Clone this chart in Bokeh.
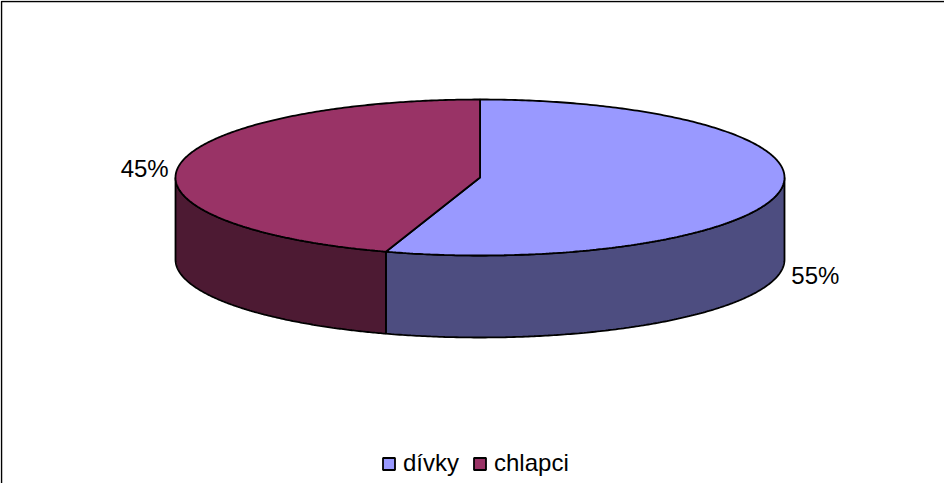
import numpy as np
from bokeh.plotting import figure
from bokeh.models import Range1d, Legend, LegendItem
from bokeh.embed import file_html
from bokeh.resources import INLINE
from bokeh.core.properties import value

# ---- data ----
categories = ["dívky", "chlapci"]
shares = [55, 45]
pct_labels = ["55%", "45%"]
top_colors = ["#9999FF", "#993366"]
side_colors = ["#4D4D80", "#4D1A33"]

# ---- layout / style ----
W, H = 944, 483
FONT = "Liberation Sans"
cx, cy = 479.5, 306.0      # centre of the top ellipse (data units = px)
rx, ry, depth = 304.5, 78.0, 82.0

p = figure(width=W, height=H, x_range=Range1d(0, W), y_range=Range1d(0, H),
           output_backend="svg", toolbar_location=None, min_border=0)
p.axis.visible = False
p.grid.visible = False
p.outline_line_color = None
p.background_fill_color = "white"
p.border_fill_color = "white"


def ell(theta_deg, drop=0.0):
    t = np.radians(theta_deg)
    return cx + rx * np.sin(t), cy + ry * np.cos(t) - drop


total = float(sum(shares))
starts, ends = [], []
acc = 0.0
for s in shares:
    starts.append(acc / total * 360.0)
    acc += s
    ends.append(acc / total * 360.0)

# side walls (visible front half: 90..270 degrees clockwise from top)
for a, b, col in zip(starts, ends, side_colors):
    lo, hi = max(a, 90.0), min(b, 270.0)
    if hi <= lo:
        continue
    th = np.linspace(lo, hi, 200)
    xt, yt = ell(th)
    xb, yb = ell(th[::-1], depth)
    xs = list(xt) + list(xb)
    ys = list(yt) + list(yb)
    p.patch(xs, ys, fill_color=col, line_color="black", line_width=1.8)

# top wedges
tops = []
for a, b, col in zip(starts, ends, top_colors):
    th = np.linspace(a, b, 300)
    xt, yt = ell(th)
    xs = [cx] + list(xt)
    ys = [cy] + list(yt)
    r = p.patch(xs, ys, fill_color=col, line_color="black", line_width=1.8)
    tops.append(r)

# percentage labels
for a, b, lab in zip(starts, ends, pct_labels):
    mid = (a + b) / 2.0
    t = np.radians(mid)
    k = 1.115
    x = cx + k * rx * np.sin(t)
    y = cy + k * ry * np.cos(t)
    if 90.0 < mid < 270.0:
        y -= depth + 2
    else:
        y -= 5
    p.text([x], [y], text=[lab], text_font=value(FONT), text_font_size="24px",
           text_align="center", text_baseline="middle", text_color="black")

# frame lines (left and top; the rest lies outside the window)
p.line([1, 1, W], [0, H - 1, H - 1], line_color="black", line_width=1.5)

legend = Legend(items=[LegendItem(label=c, renderers=[r]) for c, r in zip(categories, tops)],
                orientation="horizontal", location=(381, 6),
                label_text_font=FONT, label_text_font_size="24px",
                label_text_color="black",
                glyph_width=15, glyph_height=15, label_standoff=7, spacing=13,
                padding=0, margin=0, border_line_color=None,
                background_fill_alpha=0)
p.add_layout(legend, "center")

open("out.html", "w").write(file_html(p, INLINE))
